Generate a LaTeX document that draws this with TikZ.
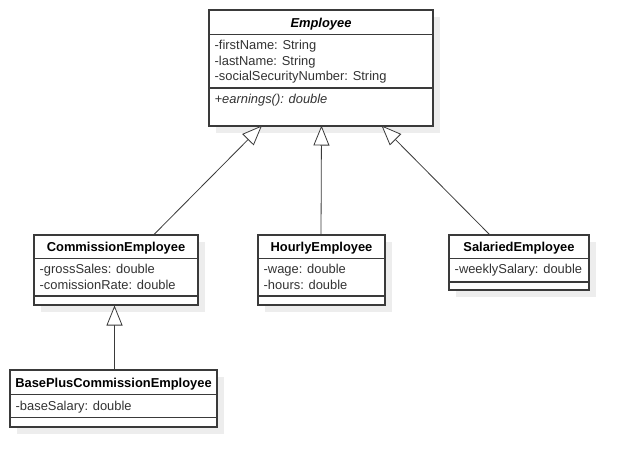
\documentclass[tikz,border=0pt]{standalone}
\usepackage{fontspec}
\setmainfont{Liberation Sans}
\usetikzlibrary{arrows.meta,shadows}
\definecolor{boxline}{HTML}{3A3A3A}
\definecolor{txt}{HTML}{333333}
\definecolor{shade}{HTML}{EDEDED}
\newcommand{\umlfont}{\fontsize{12.9}{15}\selectfont}
\tikzset{
  classbox/.style={draw=boxline, line width=1.2pt, fill=white, anchor=north west,
    inner sep=0pt, outer sep=0pt,
    drop shadow={shadow xshift=7pt, shadow yshift=-7pt, fill=shade, opacity=1}},
  sep/.style={draw=boxline, line width=1.1pt},
  ctitle/.style={anchor=base, inner sep=0pt, font=\umlfont\bfseries, text=black},
  cattr/.style={anchor=base west, inner sep=0pt, font=\umlfont, text=txt},
  inh/.style={draw=boxline, line width=0.8pt,
    -{Triangle[open, length=20pt, width=16pt, fill=white]}},
}
\begin{document}
\begin{tikzpicture}[x=1pt,y=-1pt]
\useasboundingbox[fill=white] (0,0) rectangle (629,467);

% Employee
\node[classbox, minimum width=224, minimum height=116] (emp) at (209,10) {};
\draw[sep] (209,34.5) -- (433,34.5);
\draw[sep] (209,88) -- (433,88);
\node[ctitle, font=\umlfont\bfseries\itshape] (empT) at (321,27) {Employee};
\node[cattr] (empA1) at (214.5,49.5) {-firstName: String};
\node[cattr] (empA2) at (214.5,65) {-lastName: String};
\node[cattr] (empA3) at (214.5,80.5) {-socialSecurityNumber: String};
\node[cattr, font=\umlfont\itshape] (empM1) at (214.5,103.5) {+earnings(): double};

% CommissionEmployee
\node[classbox, minimum width=164, minimum height=70] (com) at (34,235) {};
\draw[sep] (34,258.5) -- (198,258.5);
\draw[sep] (34,296) -- (198,296);
\node[ctitle] (comT) at (116,251) {CommissionEmployee};
\node[cattr] (comA1) at (39.5,273.5) {-grossSales: double};
\node[cattr] (comA2) at (39.5,289.5) {-comissionRate: double};

% HourlyEmployee
\node[classbox, minimum width=127, minimum height=70] (hou) at (258,235) {};
\draw[sep] (258,258.5) -- (385,258.5);
\draw[sep] (258,296) -- (385,296);
\node[ctitle] (houT) at (321.5,251) {HourlyEmployee};
\node[cattr] (houA1) at (263.5,273.5) {-wage: double};
\node[cattr] (houA2) at (263.5,289.5) {-hours: double};

% SalariedEmployee
\node[classbox, minimum width=140, minimum height=55] (sal) at (449,235) {};
\draw[sep] (449,258.5) -- (589,258.5);
\draw[sep] (449,282) -- (589,282);
\node[ctitle] (salT) at (519,251) {SalariedEmployee};
\node[cattr] (salA1) at (454.5,273.5) {-weeklySalary: double};

% BasePlusCommissionEmployee
\node[classbox, minimum width=207, minimum height=57] (bpc) at (10,370) {};
\draw[sep] (10,394.5) -- (217,394.5);
\draw[sep] (10,417.5) -- (217,417.5);
\node[ctitle] (bpcT) at (113.5,387) {BasePlusCommissionEmployee};
\node[cattr] (bpcA1) at (15.5,410) {-baseSalary: double};

% attachment points of the generalisation arrows
\coordinate (empL) at (262,125.5);
\coordinate (empC) at (321.5,125.5);
\coordinate (empR) at (381.5,125.5);
\coordinate (comTop) at (153.5,235);
\coordinate (houTop) at (321,235);
\coordinate (salTop) at (490,235);
\coordinate (comBot) at (114.5,305.5);
\coordinate (bpcTop) at (114.5,370);

\draw[inh] (comTop) -- (empL);
\draw[inh] (houTop) -- (empC);
\draw[inh] (salTop) -- (empR);
\draw[inh] (bpcTop) -- (comBot);
\end{tikzpicture}
\end{document}
